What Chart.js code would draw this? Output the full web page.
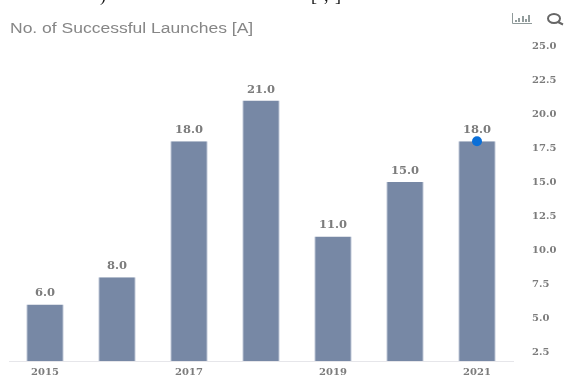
<!DOCTYPE html>
<html>
<head>
<meta charset="utf-8">
<style>
html,body{margin:0;padding:0;background:#fff}
#wrap{position:absolute;left:0;top:0;width:565px;height:376px}
</style>
<script src="https://cdn.jsdelivr.net/npm/chart.js@4"></script>
</head>
<body>
<div id="wrap"><canvas id="c" width="565" height="376"></canvas></div>
<script>
const categories = ['2015','2016','2017','2018','2019','2020','2021'];
const launches = [6, 8, 18, 21, 11, 15, 18];
const latestPoint = [null, null, null, null, null, null, 18];
const yTickValues = [2.5, 5, 7.5, 10, 12.5, 15, 17.5, 20, 22.5, 25];
const titleText = 'No. of Successful Launches [A]';
const headingScraps = [[')', 100], ['[', 311], [',', 324], [']', 335]];
const tickFamily = 'DejaVu Serif';
const tickColor = '#7c7c7c';

// Value labels above the bars, the title and the two toolbar glyphs
const decorations = {
  id: 'decorations',
  afterDatasetsDraw(chart) {
    const ctx = chart.ctx;
    ctx.save();
    const bars = chart.getDatasetMeta(1).data;
    ctx.font = 'bold 11.5px "' + tickFamily + '"';
    ctx.fillStyle = tickColor;
    ctx.textAlign = 'center';
    ctx.textBaseline = 'alphabetic';
    bars.forEach((bar, i) => {
      ctx.fillText(launches[i].toFixed(1), bar.x, bar.y - 8);
    });

    // Title, drawn slightly wide
    ctx.save();
    ctx.translate(10, 33);
    ctx.scale(1.25, 1);
    ctx.font = '14px "Liberation Sans"';
    ctx.fillStyle = '#868686';
    ctx.textAlign = 'left';
    ctx.fillText(titleText, 0, 0);
    ctx.restore();

    // Lower edge of the heading line above the chart
    ctx.font = '18px "Liberation Serif"';
    ctx.fillStyle = '#111';
    ctx.textAlign = 'left';
    headingScraps.forEach(([s, x]) => ctx.fillText(s, x, 1));

    // bar-chart glyph
    ctx.strokeStyle = '#8f9a9a';
    ctx.lineWidth = 1;
    ctx.beginPath();
    ctx.moveTo(512.5, 13); ctx.lineTo(512.5, 23.5); ctx.lineTo(532, 23.5);
    ctx.stroke();
    ctx.strokeStyle = '#6f7c7c';
    ctx.lineWidth = 1.5;
    ctx.beginPath();
    [[516,20],[519,18],[523,16],[526,19],[529,15]].forEach(([x, y]) => {
      ctx.moveTo(x, 22); ctx.lineTo(x, y);
    });
    ctx.stroke();

    // magnifier glyph
    ctx.strokeStyle = '#666';
    ctx.lineWidth = 2;
    ctx.beginPath();
    ctx.ellipse(554, 18.5, 6, 4.5, 0, 0, Math.PI * 2);
    ctx.moveTo(558, 22); ctx.lineTo(563, 24.5);
    ctx.stroke();
    ctx.restore();
  }
};

new Chart(document.getElementById('c'), {
  data: {
    labels: categories,
    datasets: [
      {
        type: 'line',
        data: latestPoint,
        showLine: false,
        pointRadius: 5,
        pointBackgroundColor: '#0a6fd8',
        pointBorderWidth: 0,
        order: 0
      },
      {
        type: 'bar',
        data: launches,
        backgroundColor: '#7788a5',
        borderColor: '#c3cbdb',
        borderWidth: { left: 1, right: 1, top: 0, bottom: 0 },
        barPercentage: 1,
        categoryPercentage: 0.52,
        order: 1
      }
    ]
  },
  options: {
    responsive: false,
    animation: false,
    layout: { padding: { left: 9, top: 38, right: 0, bottom: 0 } },
    plugins: { legend: { display: false }, tooltip: { enabled: false } },
    scales: {
      x: {
        afterFit(axis) { axis.height = 15; },
        grid: { display: false, drawTicks: false },
        border: { color: '#e6e6ea', width: 1 },
        ticks: {
          font: { family: tickFamily, size: 10, weight: 'bold' },
          color: tickColor,
          autoSkip: false,
          maxRotation: 0,
          padding: 5,
          callback(v, i) { return i % 2 === 0 ? categories[i] : ''; }
        }
      },
      y: {
        position: 'right',
        min: 1.84,
        max: 25.6,
        afterBuildTicks(axis) { axis.ticks = yTickValues.map(value => ({ value })); },
        // The tick padding only shifts labels sideways, so keep it out of the vertical margins
        afterFit(axis) { axis.width = 52; axis.paddingTop = 0; axis.paddingBottom = 0; },
        grid: { display: false, drawTicks: false },
        border: { display: false },
        ticks: {
          font: { family: tickFamily, size: 10, weight: 'bold' },
          color: tickColor,
          padding: 19,
          callback(v) { return v.toFixed(1); }
        }
      }
    }
  },
  plugins: [decorations]
});
</script>
</body>
</html>
